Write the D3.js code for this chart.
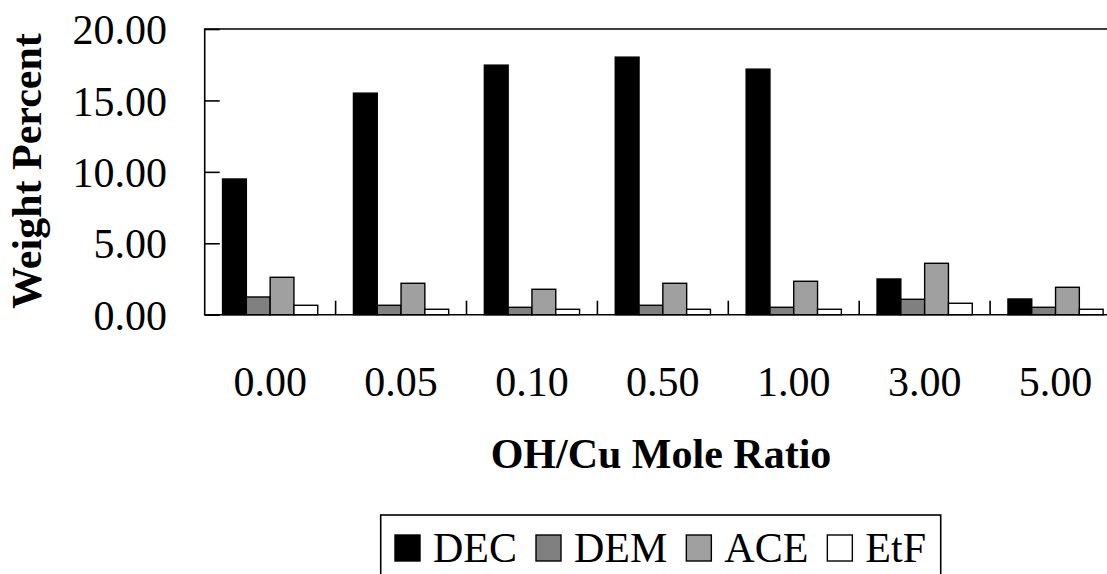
<!DOCTYPE html>
<html>
<head>
<meta charset="utf-8">
<script src="https://cdn.jsdelivr.net/npm/d3@7"></script>
<style>
  body { margin: 0; background: #fff; }
  svg { display: block; font-family: "Liberation Serif", "Times New Roman", serif; }
</style>
</head>
<body>
<svg id="chart" width="1107" height="574"></svg>
<script>
// OH/Cu ratios along the x axis
const ratios = ['0.00', '0.05', '0.10', '0.50', '1.00', '3.00', '5.00'];
const seriesNames = ['DEC', 'DEM', 'ACE', 'EtF'];
const seriesColors = ['#000000', '#808080', '#a0a0a0', '#ffffff'];

// weight percent
const dec = [9.50, 15.51, 17.47, 18.03, 17.19, 2.50, 1.10];
const dem = [1.24, 0.66, 0.52, 0.66, 0.52, 1.08, 0.52];
const ace = [2.62, 2.20, 1.78, 2.20, 2.34, 3.60, 1.92];
const etf = [0.66, 0.38, 0.38, 0.38, 0.38, 0.80, 0.38];

const yTicks = [0, 5, 10, 15, 20];

const values = [dec, dem, ace, etf];

const svg = d3.select('#chart');
const plotLeft = 204.7, plotTop = 29, plotBottom = 314.7;
const catW = 130.9;
const plotRight = plotLeft + catW * ratios.length;   // runs past the window edge, like the original

const x = d3.scaleBand()
    .domain(ratios)
    .range([plotLeft, plotRight])
    .padding(0);

// gap width 150% of one bar
const barW = catW / 5.5;
const x1 = d3.scaleBand()
    .domain(seriesNames)
    .range([0.75 * barW, catW - 0.75 * barW])
    .padding(0);

const y = d3.scaleLinear()
    .domain([0, 20])
    .range([plotBottom, plotTop]);

// bars
const groups = svg.append('g')
    .selectAll('g')
    .data(ratios)
    .join('g')
    .attr('transform', d => `translate(${x(d)},0)`);

groups.selectAll('rect')
    .data((d, i) => seriesNames.map((s, k) => ({ s, k, v: values[k][i] })))
    .join('rect')
    .attr('x', d => x1(d.s))
    .attr('width', x1.bandwidth())
    .attr('y', d => y(d.v))
    .attr('height', d => y(0) - y(d.v))
    .style('fill', d => seriesColors[d.k])
    .style('stroke', '#000')
    .style('stroke-width', 1.4);

// frame: top + left + bottom
svg.append('path')
    .attr('d', `M${plotRight},${plotTop}H${plotLeft}V${plotBottom}H${plotRight}`)
    .style('fill', 'none')
    .style('stroke', '#000')
    .style('stroke-width', 1.6);

// y axis, ticks pointing in
const yAxis = svg.append('g')
    .attr('transform', `translate(${plotLeft},0)`)
    .call(d3.axisRight(y).tickValues(yTicks).tickSize(15).tickFormat(''));
yAxis.select('.domain').remove();
yAxis.selectAll('line').style('stroke', '#000').style('stroke-width', 1.6);

svg.append('g')
    .selectAll('text')
    .data(yTicks)
    .join('text')
    .attr('x', 167)
    .attr('y', d => y(d))
    .attr('dy', '0.36em')
    .attr('text-anchor', 'end')
    .style('font-size', '42px')
    .text(d => d.toFixed(2));

// category separators, pointing up
svg.append('g')
    .selectAll('line')
    .data(ratios.slice(1))
    .join('line')
    .attr('x1', d => x(d))
    .attr('x2', d => x(d))
    .attr('y1', plotBottom)
    .attr('y2', plotBottom - 14)
    .style('stroke', '#000')
    .style('stroke-width', 1.6);

svg.append('g')
    .selectAll('text')
    .data(ratios)
    .join('text')
    .attr('x', d => x(d) + catW / 2)
    .attr('y', 395.5)
    .attr('text-anchor', 'middle')
    .style('font-size', '42px')
    .text(d => d);

// axis titles
svg.append('text')
    .attr('x', 661)
    .attr('y', 468)
    .attr('text-anchor', 'middle')
    .style('font-size', '42px')
    .style('font-weight', 'bold')
    .text('OH/Cu Mole Ratio');

svg.append('text')
    .attr('transform', 'translate(41,171) rotate(-90)')
    .attr('text-anchor', 'middle')
    .style('font-size', '42px')
    .style('font-weight', 'bold')
    .text('Weight Percent');

// legend
const legend = svg.append('g');
legend.append('rect')
    .attr('x', 380.7)
    .attr('y', 515)
    .attr('width', 560)
    .attr('height', 80)
    .style('fill', '#fff')
    .style('stroke', '#000')
    .style('stroke-width', 1.6);

let lx = 395;
seriesNames.forEach((name, k) => {
    legend.append('rect')
        .attr('x', lx)
        .attr('y', 535)
        .attr('width', 25)
        .attr('height', 26)
        .style('fill', seriesColors[k])
        .style('stroke', '#000')
        .style('stroke-width', 1.4);
    const t = legend.append('text')
        .attr('x', lx + 38)
        .attr('y', 561.5)
        .style('font-size', '42px')
        .text(name);
    lx += 38 + t.node().getComputedTextLength() + 19;
});
</script>
</body>
</html>
